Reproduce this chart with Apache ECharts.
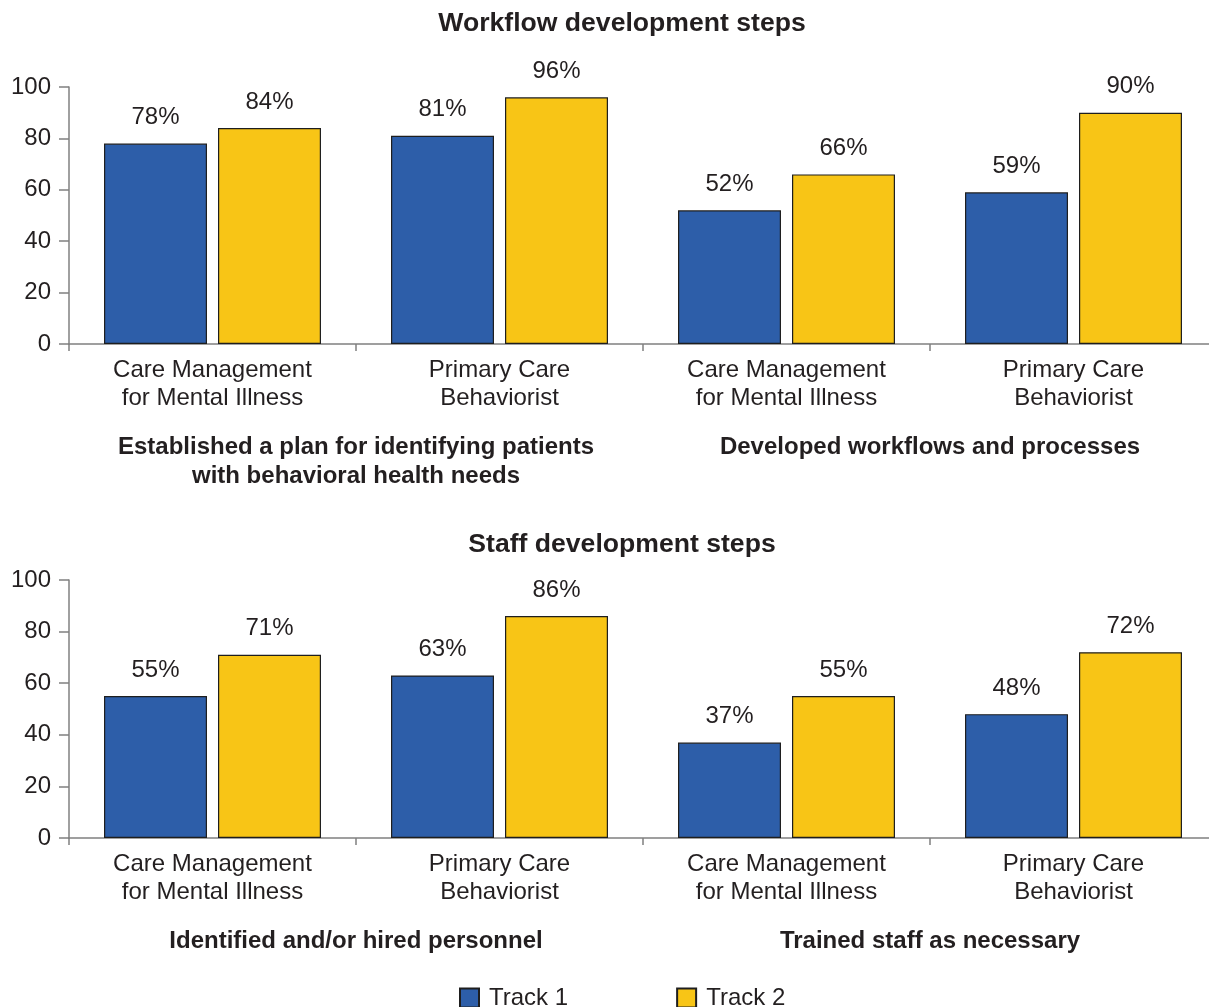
<!DOCTYPE html>
<html>
<head>
<meta charset="utf-8">
<script src="https://cdn.jsdelivr.net/npm/echarts@6/dist/echarts.min.js"></script>
<style>
  html, body { margin: 0; padding: 0; background: #ffffff; overflow: hidden; }
  /* the last category slot runs a little past the right edge of the view */
  #chart { width: 1217px; height: 1007px; }
</style>
</head>
<body>
<div id="chart"></div>
<script>
// Panel titles
const panelTitles = ['Workflow development steps', 'Staff development steps'];

// Program models (inner categories), repeated within each step group
const models = [
  'Care Management\nfor Mental Illness', 'Primary Care\nBehaviorist',
  'Care Management\nfor Mental Illness', 'Primary Care\nBehaviorist'
];

// Step groups under each panel
const workflowSteps = ['Established a plan for identifying patients\nwith behavioral health needs', 'Developed workflows and processes'];
const staffSteps = ['Identified and/or hired personnel', 'Trained staff as necessary'];

// Percent of practices completing each step
const workflowTrack1 = [78, 81, 52, 59];
const workflowTrack2 = [84, 96, 66, 90];
const staffTrack1 = [55, 63, 37, 48];
const staffTrack2 = [71, 86, 55, 72];

const seriesNames = ['Track 1', 'Track 2'];
const yTicks = { min: 0, max: 100, interval: 20 };

const FONT = '"Liberation Sans", Arial, Helvetica, sans-serif';
const TEXT = '#231f20';
const AXIS = '#808080';
const BLUE = '#2d5ea9';
const YELLOW = '#f8c516';
const EDGE = '#1e1e1e';

function modelAxis(gi) {
  return {
    type: 'category', gridIndex: gi, data: models,
    axisLine: { show: true, lineStyle: { color: AXIS, width: 1.5 } },
    axisTick: { show: true, length: 7, lineStyle: { color: AXIS, width: 1.5 } },
    axisLabel: { color: TEXT, fontFamily: FONT, fontSize: 24, lineHeight: 28, margin: 12, interval: 0 }
  };
}
function stepAxis(gi, steps) {
  return {
    type: 'category', gridIndex: gi, data: steps, position: 'bottom',
    axisLine: { show: false }, axisTick: { show: false },
    axisLabel: { color: TEXT, fontFamily: FONT, fontSize: 24, fontWeight: 'bold', lineHeight: 29, margin: 89, interval: 0 }
  };
}
function valueAxis(gi) {
  return {
    type: 'value', gridIndex: gi, min: yTicks.min, max: yTicks.max, interval: yTicks.interval,
    axisLine: { show: true, lineStyle: { color: AXIS, width: 1.5 } },
    axisTick: { show: true, length: 10, lineStyle: { color: AXIS, width: 1.5 } },
    splitLine: { show: false },
    axisLabel: { color: TEXT, fontFamily: FONT, fontSize: 24, margin: 18 }
  };
}
function barSeries(name, data, gi, color) {
  return {
    type: 'bar', name: name, data: data,
    xAxisIndex: gi * 2, yAxisIndex: gi,
    barGap: '10.7%', barCategoryGap: '24.4%',
    itemStyle: { color: color, borderColor: EDGE, borderWidth: 1.2 },
    label: {
      show: true, position: 'top', distance: 14, formatter: '{c}%',
      color: TEXT, fontFamily: FONT, fontSize: 24
    }
  };
}

const chart = echarts.init(document.getElementById('chart'), null, { renderer: 'canvas' });
chart.setOption({
  animation: false,
  backgroundColor: '#ffffff',
  title: [
    { text: panelTitles[0], left: 617, textAlign: 'center', top: 5, textStyle: { color: TEXT, fontFamily: FONT, fontSize: 26.6, fontWeight: 'bold' } },
    { text: panelTitles[1], left: 617, textAlign: 'center', top: 526, textStyle: { color: TEXT, fontFamily: FONT, fontSize: 26.6, fontWeight: 'bold' } }
  ],
  legend: {
    data: seriesNames, left: 459, top: 986, padding: 0, itemWidth: 19, itemHeight: 19, itemGap: 108,
    icon: 'rect',
    textStyle: { color: TEXT, fontFamily: FONT, fontSize: 24, padding: [0, 0, 0, 5] }
  },
  grid: [
    { left: 69, right: 0, top: 87, height: 257 },
    { left: 69, right: 0, top: 580, height: 258 }
  ],
  xAxis: [modelAxis(0), stepAxis(0, workflowSteps), modelAxis(1), stepAxis(1, staffSteps)],
  yAxis: [valueAxis(0), valueAxis(1)],
  series: [
    barSeries(seriesNames[0], workflowTrack1, 0, BLUE),
    barSeries(seriesNames[1], workflowTrack2, 0, YELLOW),
    barSeries(seriesNames[0], staffTrack1, 1, BLUE),
    barSeries(seriesNames[1], staffTrack2, 1, YELLOW)
  ]
});
</script>
</body>
</html>
